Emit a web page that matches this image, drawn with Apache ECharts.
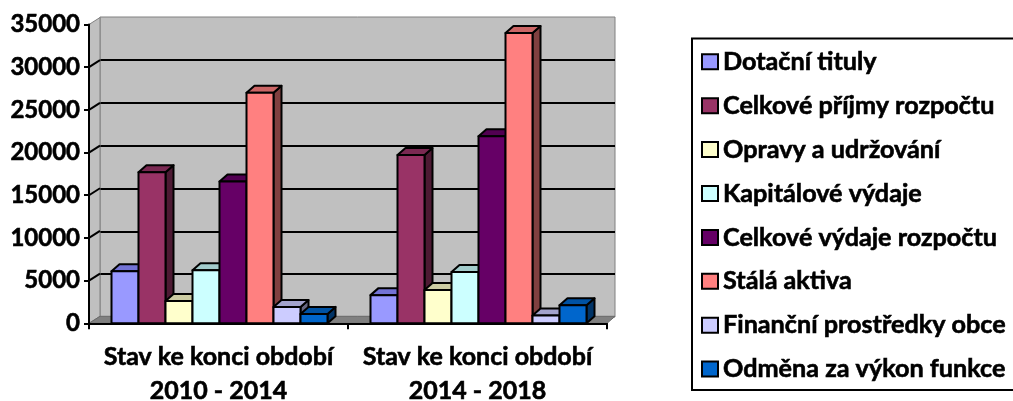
<!DOCTYPE html>
<html>
<head>
<meta charset="utf-8">
<script src="https://cdn.jsdelivr.net/npm/echarts@6/dist/echarts.min.js"></script>
<style>
html,body{margin:0;padding:0;background:#ffffff;}
#c{width:1013px;height:401px;}
</style>
</head>
<body>
<div id="c"></div>
<script>
// ---- data ----
const categories = ['Stav ke konci období\n2010 - 2014', 'Stav ke konci období\n2014 - 2018'];
const seriesNames = [
  'Dotační tituly',
  'Celkové příjmy rozpočtu',
  'Opravy a udržování',
  'Kapitálové výdaje',
  'Celkové výdaje rozpočtu',
  'Stálá aktiva',
  'Finanční prostředky obce',
  'Odměna za výkon funkce'
];
const dotacniTituly = [6100, 3300];
const celkovePrijmy = [17700, 19700];
const opravyUdrzovani = [2600, 3900];
const kapitaloveVydaje = [6200, 6000];
const celkoveVydaje = [16600, 21900];
const stalaAktiva = [27000, 34000];
const financniProstredky = [1900, 900];
const odmenaFunkce = [1100, 2100];
const yMin = 0, yMax = 35000, yStep = 5000;
const yTicks = [0, 5000, 10000, 15000, 20000, 25000, 30000, 35000];

// ---- styling ----
const FONT = 'Lato, "Open Sans", sans-serif';
const TB = {textBorderColor: '#000', textBorderWidth: 0.6};
const seriesValues = [dotacniTituly, celkovePrijmy, opravyUdrzovani, kapitaloveVydaje,
                      celkoveVydaje, stalaAktiva, financniProstredky, odmenaFunkce];
const colors = [
  {front:'#9999FF', top:'#7373D6', side:'#4D4D80'},
  {front:'#993366', top:'#7A2952', side:'#4D1A33'},
  {front:'#FFFFCC', top:'#CCCCA3', side:'#808066'},
  {front:'#CCFFFF', top:'#A3CCCC', side:'#668080'},
  {front:'#660066', top:'#520052', side:'#330033'},
  {front:'#FF8080', top:'#CC6666', side:'#804040'},
  {front:'#CCCCFF', top:'#A3A3CC', side:'#666680'},
  {front:'#0066CC', top:'#0052A3', side:'#003366'}
];
const BAR_FRAC = 27 / 259;   // width of one bar relative to category band
const SHIFT_FRAC = 1 / 259;
const DX = 8, DY = 7;        // bar depth
const WX = 11, WY = 7, WXR = 8; // wall depth

const chart = echarts.init(document.getElementById('c'), null, {renderer: 'canvas'});

function barSeries(i) {
  const c = colors[i];
  return {
    type: 'custom',
    name: seriesNames[i],
    xAxisIndex: 0, yAxisIndex: 0,
    z: 10 + i,
    itemStyle: {color: c.front},
    encode: {x: 0, y: 1},
    data: seriesValues[i].map((v, k) => [k, v]),
    renderItem: function (params, api) {
      const cat = api.value(0), val = api.value(1);
      const pTop = api.coord([cat, val]);
      const pBase = api.coord([cat, 0]);
      const band = api.size([1, 0])[0];
      const bw = band * BAR_FRAC;
      const cx = pTop[0] + band * SHIFT_FRAC;
      const x0 = cx - bw * seriesNames.length / 2 + i * bw;
      const x1 = x0 + bw;
      const yt = pTop[1], yb = pBase[1];
      const stroke = {stroke: '#000', lineWidth: 2, lineJoin: 'round'};
      return {
        type: 'group',
        children: [
          {type: 'polygon', shape: {points: [[x1, yt], [x1 + DX, yt - DY], [x1 + DX, yb - DY], [x1, yb]]},
           style: Object.assign({fill: c.side}, stroke)},
          {type: 'polygon', shape: {points: [[x0, yt], [x0 + DX, yt - DY], [x1 + DX, yt - DY], [x1, yt]]},
           style: Object.assign({fill: c.top}, stroke)},
          {type: 'rect', shape: {x: x0, y: yt, width: bw, height: yb - yt},
           style: Object.assign({fill: c.front}, stroke)}
        ]
      };
    }
  };
}

const frameSeries = {
  type: 'custom',
  name: '__frame',
  xAxisIndex: 0, yAxisIndex: 0,
  z: 5,
  silent: true,
  legendHoverLink: false,
  data: [[0, 0]],
  renderItem: function (params, api) {
    const cs = params.coordSys;
    const x = cs.x, y = cs.y, w = cs.width, h = cs.height;
    const ch = [];
    ch.push({type: 'polygon', shape: {points: [[x, y], [x + WX, y - WY], [x + WX, y + h - WY], [x, y + h]]},
      style: {fill: '#C0C0C0', stroke: '#808080', lineWidth: 1}});
    ch.push({type: 'polygon', shape: {points: [[x, y + h], [x + WX, y + h - WY], [x + w + WXR, y + h - WY], [x + w, y + h]]},
      style: {fill: '#808080', stroke: '#6A6A6A', lineWidth: 1}});
    yTicks.forEach(function (v) {
      if (v > yMin && v < yMax) {
        const p = api.coord([0, v]);
        ch.push({type: 'line', shape: {x1: x, y1: p[1], x2: x + WX, y2: p[1] - WY},
          style: {stroke: '#000', lineWidth: 2}});
      }
    });
    return {type: 'group', children: ch};
  }
};

const series = [frameSeries];
for (let i = 0; i < seriesNames.length; i++) series.push(barSeries(i));

const option = {
  backgroundColor: '#ffffff',
  animation: false,
  textStyle: {fontFamily: FONT},
  legend: {
    orient: 'vertical',
    left: 692, top: 38.5,
    padding: [10.5, 40, 8, 9],
    borderColor: '#000', borderWidth: 2,
    itemWidth: 16, itemHeight: 15,
    itemGap: 18.3,
    icon: 'rect',
    itemStyle: {borderColor: '#000', borderWidth: 2},
    textStyle: Object.assign({fontFamily: FONT, fontWeight: 'bold', fontSize: 25.2, color: '#000', lineHeight: 24}, TB),
    data: seriesNames
  },
  grid: [
    {left: 89, top: 24.5, width: 518, height: 298.8, containLabel: false, outerBoundsMode: 'none'},
    {left: 100, top: 17, width: 515, height: 300, show: true, backgroundColor: '#C0C0C0',
     borderColor: '#808080', borderWidth: 1, z: 0, outerBoundsMode: 'none'}
  ],
  xAxis: [
    {type: 'category', gridIndex: 0, data: categories, z: 30,
     axisLine: {show: true, lineStyle: {color: '#000', width: 2}},
     axisTick: {show: true, interval: 0, length: 6, lineStyle: {color: '#000', width: 2}},
     axisLabel: Object.assign({interval: 0, margin: 17, fontFamily: FONT, fontWeight: 'bold', fontSize: 25,
                 lineHeight: 34, color: '#000'}, TB)},
    {type: 'category', gridIndex: 1, data: categories, show: false}
  ],
  yAxis: [
    {type: 'value', gridIndex: 0, min: yMin, max: yMax, interval: yStep, z: 30,
     axisLine: {show: true, lineStyle: {color: '#000', width: 2}},
     axisTick: {show: true, length: 5, lineStyle: {color: '#000', width: 2}},
     splitLine: {show: false},
     axisLabel: Object.assign({margin: 9, fontFamily: FONT, fontWeight: 'bold', fontSize: 24, color: '#000',
                 formatter: function (v) { return String(v); }}, TB)},
    {type: 'value', gridIndex: 1, min: yMin, max: yMax, interval: yStep,
     axisLine: {show: false}, axisTick: {show: false}, axisLabel: {show: false},
     splitLine: {show: true, showMinLine: false, showMaxLine: false, lineStyle: {color: '#000', width: 2}}}
  ],
  series: series
};
chart.setOption(option);
</script>
</body>
</html>
